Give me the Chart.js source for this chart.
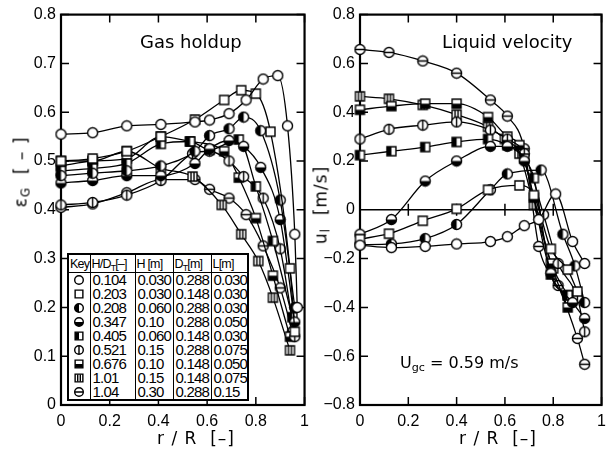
<!DOCTYPE html>
<html>
<head>
<meta charset="utf-8">
<script src="https://cdn.jsdelivr.net/npm/chart.js@4.4.1/dist/chart.umd.min.js"></script>
<style>
  html, body { margin: 0; padding: 0; background: #fff; }
  #page { position: relative; width: 613px; height: 456px; overflow: hidden; font-family: "Liberation Sans", Arial, sans-serif; color: #000; }
  .box { position: absolute; top: 0; }
  .lbl { position: absolute; white-space: nowrap; line-height: 1; }
  .title { font-family: "DejaVu Sans", sans-serif; font-size: 18px; }
  .axt { font-family: "DejaVu Sans", sans-serif; font-size: 17px; letter-spacing: 1px; }
  .rot { transform: translate(-50%, -50%) rotate(-90deg); }
  sub { font-size: 70%; vertical-align: -3px; line-height: 0; }
  #key { position: absolute; left: 67px; top: 253px; width: 180px; table-layout: fixed; border-collapse: collapse; background: #fff; border: 2px solid #000; font-size: 15px; letter-spacing: -0.8px; }
  #key th { font-weight: normal; font-size: 12.5px; letter-spacing: -0.8px; border-left: 1.5px solid #000; border-bottom: 1.5px solid #000; padding: 1px 0 1px 1px; height: 15px; text-align: left; overflow: hidden; white-space: nowrap; }
  #key td { border-left: 1.5px solid #000; padding: 0 0 0 2px; height: 14px; line-height: 14px; text-align: left; white-space: nowrap; overflow: hidden; }
  #key td.k { text-align: center; padding: 0; }
  #key th:first-child, #key td:first-child { border-left: none; }
  #key canvas { display: block; margin: 0 auto; }
</style>
</head>
<body>
<div id="page">
  <div class="box" style="left:0;width:316px;height:456px"><canvas id="holdupChart" width="316" height="456"></canvas></div>
  <div class="box" style="left:313px;width:300px;height:456px"><canvas id="velocityChart" width="300" height="456"></canvas></div>

  <div class="lbl title" style="left:140px;top:33px">Gas holdup</div>
  <div class="lbl title" style="left:442px;top:33px">Liquid velocity</div>
  <div class="lbl" style="left:400px;top:355px;font-family:'DejaVu Sans',sans-serif;font-size:16px">U<sub>gc</sub> = 0.59 m/s</div>

  <div class="lbl axt" style="left:157px;top:430px">r / R&nbsp; [–]</div>
  <div class="lbl axt" style="left:459px;top:430px">r / R&nbsp; [–]</div>
  <div class="lbl axt rot" style="left:21px;top:172px">ε<sub>G</sub>&nbsp; [ – ]</div>
  <div class="lbl axt rot" style="left:321px;top:205px">u<sub>l</sub>&nbsp; [m/s]</div>

  <table id="key">
    <colgroup><col style="width:22px"><col style="width:45px"><col style="width:38px"><col style="width:38px"><col style="width:37px"></colgroup>
  </table>
</div>

<script>
// ---- data ----
// gas holdup, epsilon_G vs r/R
const rG0104 = [0, 0.13, 0.27, 0.41, 0.55, 0.61, 0.69, 0.76, 0.83, 0.89, 0.93, 0.96, 0.97]
const eG0104 = [0.555, 0.558, 0.572, 0.575, 0.58, 0.584, 0.597, 0.625, 0.668, 0.675, 0.572, 0.35, 0.2]
const rG0203 = [0, 0.13, 0.27, 0.41, 0.55, 0.67, 0.74, 0.8, 0.86, 0.94, 0.96]
const eG0203 = [0.5, 0.505, 0.52, 0.55, 0.585, 0.625, 0.645, 0.638, 0.56, 0.28, 0.15]
const rG0208 = [0, 0.13, 0.27, 0.41, 0.55, 0.61, 0.69, 0.75, 0.82, 0.9, 0.96]
const eG0208 = [0.47, 0.475, 0.48, 0.49, 0.52, 0.552, 0.566, 0.59, 0.562, 0.42, 0.2]
const rG0347 = [0, 0.13, 0.27, 0.41, 0.55, 0.61, 0.69, 0.75, 0.82, 0.9, 0.96]
const eG0347 = [0.455, 0.46, 0.47, 0.47, 0.495, 0.525, 0.542, 0.53, 0.487, 0.38, 0.17]
const rG0405 = [0, 0.13, 0.27, 0.41, 0.53, 0.61, 0.73, 0.8, 0.87, 0.95]
const eG0405 = [0.48, 0.485, 0.495, 0.535, 0.54, 0.523, 0.544, 0.448, 0.336, 0.18]
const rG0521 = [0, 0.13, 0.27, 0.41, 0.54, 0.61, 0.69, 0.75, 0.83, 0.9, 0.96]
const eG0521 = [0.41, 0.415, 0.43, 0.46, 0.515, 0.52, 0.5, 0.468, 0.424, 0.32, 0.14]
const rG0676 = [0, 0.13, 0.27, 0.41, 0.53, 0.67, 0.73, 0.8, 0.87, 0.94]
const eG0676 = [0.49, 0.5, 0.505, 0.55, 0.54, 0.52, 0.466, 0.383, 0.265, 0.14]
const rG101 = [0, 0.13, 0.27, 0.41, 0.54, 0.66, 0.74, 0.81, 0.87, 0.94]
const eG101 = [0.5, 0.5, 0.52, 0.485, 0.468, 0.41, 0.35, 0.295, 0.22, 0.112]
const rG104 = [0, 0.13, 0.27, 0.41, 0.55, 0.61, 0.69, 0.76, 0.83, 0.9, 0.95]
const eG104 = [0.405, 0.412, 0.435, 0.462, 0.462, 0.442, 0.424, 0.39, 0.326, 0.24, 0.15]

// liquid velocity, u_l [m/s] vs r/R
const rU0104 = [0, 0.13, 0.27, 0.4, 0.54, 0.61, 0.68, 0.74, 0.81, 0.88, 0.93]
const uL0104 = [-0.145, -0.155, -0.15, -0.14, -0.13, -0.11, -0.065, -0.04, 0.065, -0.13, -0.22]
const rU0203 = [0, 0.12, 0.26, 0.4, 0.53, 0.66, 0.72, 0.79, 0.86, 0.9]
const uL0203 = [-0.12, -0.098, -0.045, 0.004, 0.082, 0.1, 0.06, -0.16, -0.245, -0.335]
const rU0208 = [0, 0.13, 0.27, 0.4, 0.54, 0.61, 0.75, 0.84, 0.89, 0.93]
const uL0208 = [-0.143, -0.14, -0.118, -0.06, 0.082, 0.147, 0.163, -0.1, -0.23, -0.38]
const rU0347 = [0, 0.13, 0.27, 0.4, 0.54, 0.61, 0.68, 0.79, 0.88, 0.93]
const uL0347 = [-0.1, -0.04, 0.118, 0.2, 0.26, 0.26, 0.2, -0.26, -0.38, -0.445]
const rU0405 = [0, 0.13, 0.27, 0.4, 0.53, 0.61, 0.68, 0.72, 0.79, 0.86]
const uL0405 = [0.224, 0.24, 0.257, 0.278, 0.29, 0.265, 0.21, 0.13, -0.265, -0.35]
const rU0521 = [0, 0.12, 0.26, 0.4, 0.54, 0.61, 0.68, 0.76, 0.82, 0.9, 0.93]
const uL0521 = [0.29, 0.33, 0.347, 0.36, 0.327, 0.29, 0.23, -0.02, -0.22, -0.36, -0.5]
const rU0676 = [0, 0.13, 0.27, 0.4, 0.53, 0.61, 0.66, 0.72, 0.79, 0.86]
const uL0676 = [0.41, 0.425, 0.435, 0.435, 0.38, 0.3, 0.265, 0.05, -0.22, -0.4]
const rU101 = [0, 0.12, 0.26, 0.4, 0.53, 0.6, 0.66, 0.72, 0.8, 0.86]
const uL101 = [0.465, 0.455, 0.43, 0.39, 0.34, 0.29, 0.23, 0.02, -0.24, -0.35]
const rU104 = [0, 0.12, 0.26, 0.4, 0.54, 0.61, 0.68, 0.74, 0.82, 0.9, 0.93]
const uL104 = [0.657, 0.645, 0.61, 0.56, 0.45, 0.384, 0.25, -0.15, -0.31, -0.527, -0.633]

// key table
const keyMarkers = ["circ", "sq", "circLeft", "circBottom", "sqLeft", "circV", "sqBottom", "sqV2", "circH"]
const keyHD = ["0.104", "0.203", "0.208", "0.347", "0.405", "0.521", "0.676", "1.01", "1.04"]
const keyH = ["0.030", "0.030", "0.060", "0.10", "0.060", "0.15", "0.10", "0.15", "0.30"]
const keyDT = ["0.288", "0.148", "0.288", "0.288", "0.148", "0.288", "0.148", "0.148", "0.288"]
const keyL = ["0.030", "0.030", "0.030", "0.050", "0.030", "0.075", "0.050", "0.075", "0.15"]

const holdupSeries = [
  [rG0104, eG0104], [rG0203, eG0203], [rG0208, eG0208], [rG0347, eG0347], [rG0405, eG0405],
  [rG0521, eG0521], [rG0676, eG0676], [rG101, eG101], [rG104, eG104]
]
const velocitySeries = [
  [rU0104, uL0104], [rU0203, uL0203], [rU0208, uL0208], [rU0347, uL0347], [rU0405, uL0405],
  [rU0521, uL0521], [rU0676, uL0676], [rU101, uL101], [rU104, uL104]
]

// ---- markers ----
function drawMarker(g, kind, x, y, r) {
  const isSq = kind.startsWith("sq")
  const s = r * 0.9
  const path = () => {
    g.beginPath()
    if (isSq) g.rect(x - s, y - s, 2 * s, 2 * s)
    else g.arc(x, y, r, 0, Math.PI * 2)
  }
  g.lineWidth = 1.4
  g.strokeStyle = "#000"
  g.fillStyle = "#fff"
  path()
  g.fill()
  g.save()
  path()
  g.clip()
  g.fillStyle = "#000"
  if (kind === "circLeft") g.fillRect(x - r - 1, y - r - 1, r + 1, 2 * r + 2)
  if (kind === "circBottom" || kind === "sqBottom") g.fillRect(x - r - 1, y, 2 * r + 2, r + 1)
  if (kind === "sqLeft") g.fillRect(x - s - 1, y - s - 1, s + 1, 2 * s + 2)
  g.beginPath()
  if (kind === "circV") { g.moveTo(x, y - r); g.lineTo(x, y + r) }
  if (kind === "circH") { g.moveTo(x - r, y); g.lineTo(x + r, y) }
  if (kind === "sqV2") {
    g.moveTo(x - s / 3, y - s); g.lineTo(x - s / 3, y + s)
    g.moveTo(x + s / 3, y - s); g.lineTo(x + s / 3, y + s)
  }
  g.stroke()
  g.restore()
  path()
  g.stroke()
}

function markerCanvas(kind, size, r) {
  const c = document.createElement("canvas")
  c.width = size
  c.height = size
  drawMarker(c.getContext("2d"), kind, size / 2, size / 2, r)
  return c
}

// ---- frame with inward ticks on all four sides ----
const frameTicks = {
  id: "frameTicks",
  beforeDatasetsDraw(chart, args, opts) {
    const { ctx, chartArea: a, scales } = chart
    const len = 8
    ctx.save()
    ctx.strokeStyle = "#000"
    ctx.lineWidth = 1.5
    ctx.beginPath()
    scales.x.ticks.forEach(t => {
      const px = scales.x.getPixelForValue(t.value)
      ctx.moveTo(px, a.top); ctx.lineTo(px, a.top + len)
      ctx.moveTo(px, a.bottom); ctx.lineTo(px, a.bottom - len)
    })
    scales.y.ticks.forEach(t => {
      const py = scales.y.getPixelForValue(t.value)
      ctx.moveTo(a.left, py); ctx.lineTo(a.left + len, py)
      ctx.moveTo(a.right, py); ctx.lineTo(a.right - len, py)
    })
    if (opts.zeroLine) {
      const py = scales.y.getPixelForValue(0)
      ctx.moveTo(a.left, py); ctx.lineTo(a.right, py)
      scales.x.ticks.forEach(t => {
        const px = scales.x.getPixelForValue(t.value)
        ctx.moveTo(px, py - 6); ctx.lineTo(px, py + 6)
      })
    }
    ctx.stroke()
    ctx.lineWidth = 2.2
    ctx.strokeRect(a.left, a.top, a.right - a.left, a.bottom - a.top)
    ctx.restore()
  }
}

function makeDatasets(series) {
  return series.map((s, i) => ({
    data: s[0].map((r, j) => ({ x: r, y: s[1][j] })),
    borderColor: "#000",
    borderWidth: 1.3,
    pointStyle: markerCanvas(keyMarkers[i], 13, 5),
    pointRadius: 5,
    cubicInterpolationMode: "monotone",
    clip: false
  }))
}

const tickFont = { family: "'Liberation Sans', Arial, sans-serif", size: 16 }

function fmtTick(v) {
  if (Math.abs(v) < 1e-9) return "0"
  if (Math.abs(v - 1) < 1e-9) return "1"
  return (v < 0 ? "−" : "") + Math.abs(v).toFixed(1)
}

function buildChart(id, series, yMin, yMax, yStep, yWidth, padRight, zeroLine) {
  return new Chart(document.getElementById(id).getContext("2d"), {
    type: "line",
    data: { datasets: makeDatasets(series) },
    options: {
      responsive: false,
      animation: false,
      devicePixelRatio: 1,
      layout: { padding: { top: 12, right: padRight, left: 0, bottom: 0 } },
      plugins: { legend: { display: false }, tooltip: { enabled: false }, frameTicks: { zeroLine } },
      scales: {
        x: {
          type: "linear", min: 0, max: 1,
          grid: { display: false, drawTicks: false }, border: { display: false },
          ticks: { stepSize: 0.2, color: "#000", font: tickFont, padding: 7, maxRotation: 0, callback: fmtTick },
          afterFit(scale) { scale.height = 51 }
        },
        y: {
          min: yMin, max: yMax,
          grid: { display: false, drawTicks: false }, border: { display: false },
          ticks: { stepSize: yStep, color: "#000", font: tickFont, padding: 5, callback: fmtTick },
          afterFit(scale) { scale.width = yWidth }
        }
      }
    },
    plugins: [frameTicks]
  })
}

function renderKey() {
  const table = document.getElementById("key")
  let html = "<tr><th>Key</th><th>H/D<sub>T</sub>[–]</th><th>H [m]</th><th>D<sub>T</sub>[m]</th><th>L[m]</th></tr>"
  keyHD.forEach((v, i) => {
    html += `<tr><td class="k" id="k${i}"></td><td>${v}</td><td>${keyH[i]}</td><td>${keyDT[i]}</td><td>${keyL[i]}</td></tr>`
  })
  table.insertAdjacentHTML("beforeend", html)
  keyMarkers.forEach((m, i) => document.getElementById("k" + i).appendChild(markerCanvas(m, 12, 4.3)))
}

renderKey()
buildChart("holdupChart", holdupSeries, 0, 0.8, 0.1, 61, 8, false)
buildChart("velocityChart", velocitySeries, -0.8, 0.8, 0.2, 47, 6, true)
</script>
</body>
</html>
